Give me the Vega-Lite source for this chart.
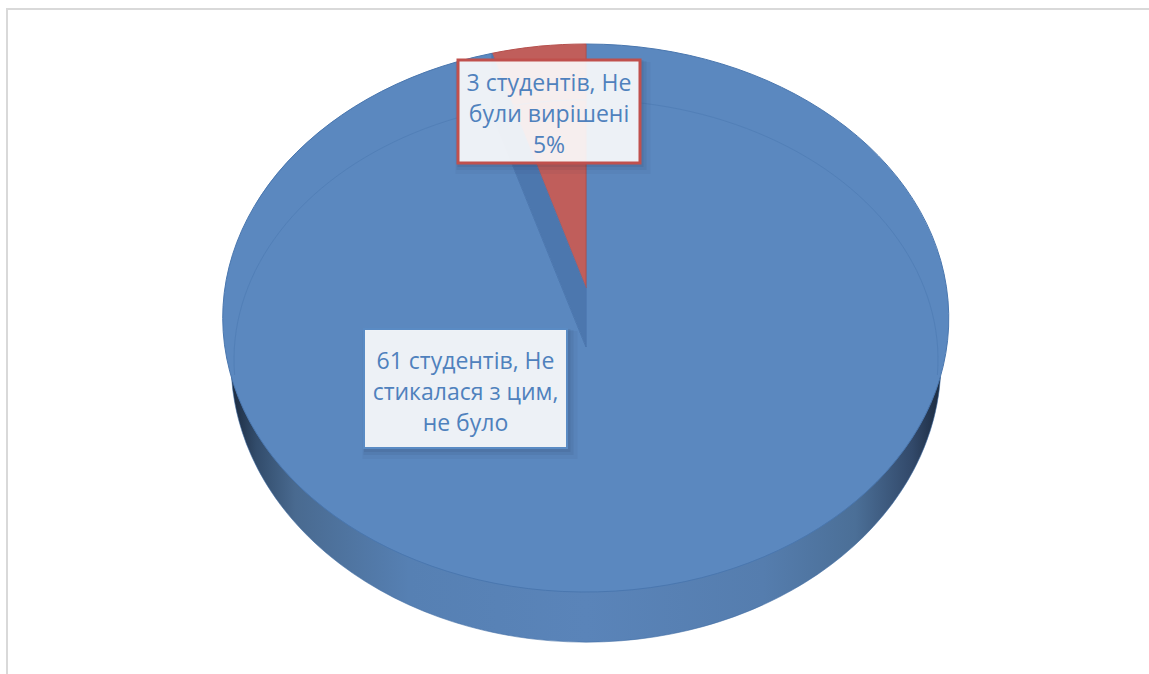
{
"$schema":"https://vega.github.io/schema/vega-lite/v6.json",
"width":1149,"height":674,"padding":0,"autosize":"none","background":"white",
"view":{"stroke":null},
"resolve":{"scale":{"shape":"independent","fill":"independent","stroke":"independent","strokeWidth":"independent"}},
"data":{"values":[
{"category":"Не стикалася з цим, не було","students":61,"label":["61 студентів, Не","стикалася з цим,","не було"]},
{"category":"Не були вирішені","students":3,"label":["3 студентів, Не","були вирішені","5%"]}
]},
"layer":[
{"transform":[{"filter":"datum.students==61"}],
 "mark":{"type":"point","size":4,"filled":false,"opacity":1,"stroke":"#d9d9d9","strokeWidth":2,"shape":"M-567.5,337 L-567.5,-328 L575,-328"}},
{"transform":[{"filter":"datum.students==61"}],
 "mark":{"type":"point","size":4,"filled":true,"opacity":1,"strokeWidth":0.8,"stroke":"#3f6ca3","strokeOpacity":0.7,
 "fill":{"x1":0,"y1":0,"x2":1,"y2":0,"gradient":"linear","stops":[
 {"offset":0,"color":"#1c2b40"},{"offset":0.035,"color":"#324c6b"},{"offset":0.09,"color":"#496a90"},{"offset":0.25,"color":"#5680b3"},{"offset":0.5,"color":"#5a84b9"},{"offset":0.75,"color":"#557dae"},{"offset":0.88,"color":"#4b6f97"},{"offset":0.96,"color":"#32496a"},{"offset":1,"color":"#1c2b40"}]},
 "shape":"M-343,40 A355,280 0 0 0 366,40 Z"}},
{"mark":{"type":"point","size":4,"filled":true,"opacity":1,"strokeWidth":1},
 "encoding":{
 "shape":{"field":"category","type":"nominal","legend":null,"scale":{"domain":["Не стикалася з цим, не було","Не були вирішені"],"range":["M11.5,10 L11.5,-293 A363,274 0 1 1 -82.5,-283.7 L-82.5,-223 Z","M11.5,-49 L11.5,-293 A363,274 0 0 0 -82.5,-283.7 Z"]}},
 "fill":{"field":"category","type":"nominal","legend":null,"scale":{"domain":["Не стикалася з цим, не було","Не були вирішені"],"range":["#5b88bf","#c05e5b"]}},
 "stroke":{"field":"category","type":"nominal","legend":null,"scale":{"domain":["Не стикалася з цим, не було","Не були вирішені"],"range":["#4a77af","#b5504d"]}}
 }},
{"transform":[{"filter":"datum.students==61"}],
 "mark":{"type":"point","size":4,"filled":true,"opacity":1,"fill":"#4c77ae","stroke":"#4c77ae","strokeWidth":0.5,"shape":"M11.5,-49 L11.5,10 L-82.5,-223 L-82.5,-283.7 Z"}},
{"transform":[{"filter":"datum.students==61"}],
 "mark":{"type":"point","size":4,"filled":false,"opacity":0.75,"stroke":"#4f7db5","strokeWidth":1,"shape":"M-339.9,38 A352,260 0 1 1 362.9,38"}},
{"mark":{"type":"point","size":4,"filled":true,"opacity":0.05,"fill":"#1f2f45","strokeWidth":0},
 "encoding":{"shape":{"field":"category","type":"nominal","legend":null,"scale":{"domain":["Не стикалася з цим, не було","Не були вирішені"],"range":["M-212,-6 H3 V122 H-212 Z","M-119,-275 H76 V-163 H-119 Z"]}}}},
{"mark":{"type":"point","size":4,"filled":true,"opacity":0.07,"fill":"#1f2f45","strokeWidth":0},
 "encoding":{"shape":{"field":"category","type":"nominal","legend":null,"scale":{"domain":["Не стикалася з цим, не було","Не були вирішені"],"range":["M-211,-7 H-1 V118 H-211 Z","M-118,-276 H72 V-167 H-118 Z"]}}}},
{"mark":{"type":"point","size":4,"filled":true,"opacity":0.09,"fill":"#1f2f45","strokeWidth":0},
 "encoding":{"shape":{"field":"category","type":"nominal","legend":null,"scale":{"domain":["Не стикалася з цим, не було","Не були вирішені"],"range":["M-210.5,-8 H-4 V115 H-210.5 Z","M-117,-277 H69 V-170 H-117 Z"]}}}},
{"mark":{"type":"point","size":4,"filled":true,"opacity":1,"fill":"#ffffff","fillOpacity":0.9},
 "encoding":{
 "shape":{"field":"category","type":"nominal","legend":null,"scale":{"domain":["Не стикалася з цим, не було","Не були вирішені"],"range":["M-210.5,-8 H-7.5 V111 H-210.5 Z","M-116.5,-277 H65.5 V-174 H-116.5 Z"]}},
 "stroke":{"field":"category","type":"nominal","legend":null,"scale":{"domain":["Не стикалася з цим, не було","Не були вирішені"],"range":["#5a8bc4","#c0504d"]}},
 "strokeWidth":{"field":"category","type":"nominal","legend":null,"scale":{"domain":["Не стикалася з цим, не було","Не були вирішені"],"range":[2,3]}}
 }},
{"transform":[{"filter":"datum.students==61"}],
 "mark":{"type":"text","font":"Open Sans","fontSize":23,"lineHeight":31,"align":"center","baseline":"middle","color":"#4f81bd","dx":-109,"dy":25},
 "encoding":{"text":{"field":"label"}}},
{"transform":[{"filter":"datum.students==3"}],
 "mark":{"type":"text","font":"Open Sans","fontSize":23,"lineHeight":31,"align":"center","baseline":"middle","color":"#4f81bd","dx":-25.5,"dy":-253},
 "encoding":{"text":{"field":"label"}}}
]
}
